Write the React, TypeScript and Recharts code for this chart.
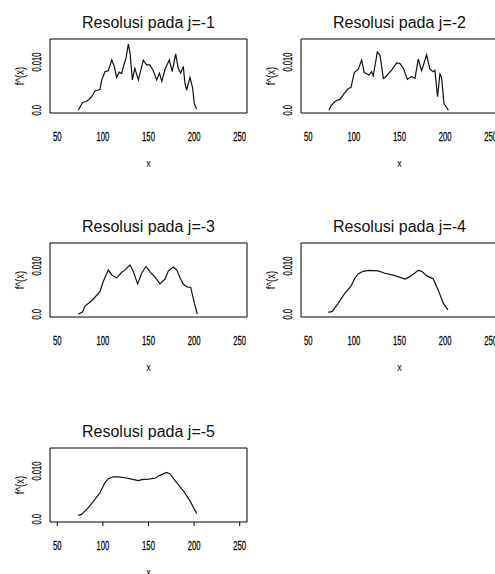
import { LineChart, Line, XAxis, YAxis, ReferenceArea, Label } from "recharts";

// axis setup shared by all five panels
const xTicks = [50, 100, 150, 200, 250];
const yTicks = [0, 0.01];
const xDomain = [42, 258];
const yDomain = [-0.00057, 0.01477];

const titles = [
  "Resolusi pada j=-1",
  "Resolusi pada j=-2",
  "Resolusi pada j=-3",
  "Resolusi pada j=-4",
  "Resolusi pada j=-5",
];

// j = -1
const x1 = [73, 77.8, 81.5, 84, 87.7, 91.3, 96.8, 98.7, 102.3, 105.9, 109.7, 112.5, 115, 117.8, 120.5, 123, 125.3, 127.9, 129.8, 132.3, 135, 138.9, 144.3, 147.9, 151.5, 155, 159, 162, 164.6, 168.3, 172.8, 176, 179.8, 182.7, 185.3, 188.1, 190, 191.8, 195.5, 198.4, 200.2, 202.8];
const y1 = [0.0, 0.0016, 0.0018, 0.0021, 0.0028, 0.004, 0.0043, 0.0063, 0.008, 0.0082, 0.0104, 0.0091, 0.0068, 0.0079, 0.0076, 0.0094, 0.0108, 0.0137, 0.0118, 0.0063, 0.0087, 0.0063, 0.0104, 0.0094, 0.0094, 0.0083, 0.0063, 0.0077, 0.006, 0.0086, 0.0104, 0.008, 0.0117, 0.0086, 0.0077, 0.0091, 0.0056, 0.0042, 0.0068, 0.0046, 0.0014, 0.0002];

// j = -2
const x2 = [72.7, 74.9, 79.3, 84.8, 89.5, 93.9, 96.8, 100.4, 104.8, 108.5, 111.4, 116.5, 119.4, 121.2, 125.7, 128.6, 132.3, 134.1, 141.4, 146.9, 150.5, 154.2, 158.6, 163.3, 167, 170.6, 174.3, 179.7, 183.3, 187, 188.8, 191.7, 194.3, 196.1, 198.8, 203.6];
const y2 = [0.0, 0.0009, 0.0018, 0.0023, 0.0035, 0.0045, 0.0047, 0.0078, 0.0085, 0.0104, 0.0078, 0.0073, 0.008, 0.0071, 0.0121, 0.0114, 0.0066, 0.0068, 0.0083, 0.0098, 0.0097, 0.0087, 0.0064, 0.007, 0.0066, 0.0106, 0.0082, 0.0115, 0.0085, 0.008, 0.0083, 0.0028, 0.0075, 0.0068, 0.0014, 0.0];

// j = -3
const x3 = [73, 77.8, 80.4, 87.7, 96.8, 100.4, 105.9, 109.6, 115.1, 120.6, 124.2, 129.7, 133.4, 138.1, 142.5, 147.3, 151.7, 157.2, 162.6, 168.1, 171.8, 177.2, 180.9, 184.5, 188.2, 193, 196.2, 200.2, 203.5];
const y3 = [0.0, 0.0005, 0.0017, 0.0028, 0.0047, 0.0068, 0.0092, 0.0082, 0.0075, 0.0087, 0.0092, 0.0102, 0.0088, 0.0063, 0.0085, 0.0099, 0.0088, 0.0077, 0.0063, 0.0073, 0.009, 0.0098, 0.0092, 0.0076, 0.0062, 0.0056, 0.0056, 0.0024, 0.0];

// j = -4
const x4 = [72, 76.3, 82.9, 90.2, 96.8, 101.1, 104.8, 110.3, 115.8, 126.7, 134, 145, 156, 161.4, 170.6, 174.3, 179.7, 187, 192.5, 198, 203.1];
const y4 = [0.0004, 0.0006, 0.0023, 0.0044, 0.0058, 0.0075, 0.0084, 0.0089, 0.0091, 0.009, 0.0085, 0.008, 0.0073, 0.0078, 0.0091, 0.0089, 0.008, 0.0073, 0.005, 0.0023, 0.0009];

// j = -5
const x5 = [73, 76.6, 84, 91.3, 96.8, 102.3, 105.9, 111.4, 116.9, 124.2, 131.5, 138.9, 142.5, 149.9, 157.2, 162.6, 169.9, 173.6, 180.9, 188.2, 195.5, 202.8];
const y5 = [0.0008, 0.001, 0.0024, 0.0041, 0.0055, 0.0076, 0.0084, 0.0088, 0.0088, 0.0086, 0.0083, 0.008, 0.0082, 0.0083, 0.0085, 0.0091, 0.0097, 0.0094, 0.0076, 0.0059, 0.0038, 0.0012];

const seriesX = [x1, x2, x3, x4, x5];
const seriesY = [y1, y2, y3, y4, y5];

const font = "'Liberation Sans', Arial, Helvetica, sans-serif";
const PANEL_W = 251;
const PANEL_H = 205;

function XTick({ x, y, payload }: any) {
  return (
    <text
      transform={`translate(${x},${y + 21.5}) scale(0.64,1)`}
      textAnchor="middle"
      fill="#000"
      stroke="#000"
      strokeWidth={0.25}
      fontFamily={font}
      fontSize={12}
    >
      {payload.value}
    </text>
  );
}

function YTick({ x, y, payload }: any) {
  const label = payload.value === 0 ? "0.0" : payload.value.toFixed(3);
  return (
    <text
      transform={`translate(${x - 3.5},${y}) rotate(-90) scale(0.64,1)`}
      textAnchor="middle"
      fill="#000"
      stroke="#000"
      strokeWidth={0.25}
      fontFamily={font}
      fontSize={12}
    >
      {label}
    </text>
  );
}

function Panel({ idx, left, top }: { idx: number; left: number; top: number }) {
  const data = seriesX[idx].map((x, i) => ({ x, y: seriesY[idx][i] }));
  const showTicks = idx === 4;
  return (
    <div style={{ position: "absolute", left, top, width: PANEL_W, height: PANEL_H }}>
      <div
        style={{
          position: "absolute",
          left: 50,
          width: 197,
          top: 14.7,
          fontSize: 16,
          lineHeight: "16px",
          textAlign: "center",
          fontFamily: font,
          color: "#111",
          whiteSpace: "nowrap",
        }}
      >
        {titles[idx]}
      </div>
      <LineChart
        width={PANEL_W}
        height={PANEL_H}
        data={data}
        margin={{ top: 39, right: 4, left: 20, bottom: 62 }}
      >
        <XAxis
          dataKey="x"
          type="number"
          domain={xDomain}
          ticks={xTicks}
          allowDataOverflow
          height={30}
          axisLine={false}
          tickLine={showTicks ? { stroke: "#000" } : false}
          tickSize={4}
          tick={<XTick />}
          interval={0}
        >
          <Label
            content={({ viewBox }: any) => (
              <text
                transform={`translate(${viewBox.x + viewBox.width / 2},${viewBox.y + 54}) scale(0.8,1)`}
                textAnchor="middle"
                fontFamily={font}
                fontSize={11}
                fill="#000"
              >
                x
              </text>
            )}
          />
        </XAxis>
        <YAxis
          dataKey="y"
          type="number"
          domain={yDomain}
          ticks={yTicks}
          allowDataOverflow
          width={30}
          axisLine={false}
          tickLine={false}
          tickSize={4}
          tick={<YTick />}
          interval={0}
        >
          <Label
            content={({ viewBox }: any) => (
              <text
                transform={`translate(${viewBox.x + 4},${viewBox.y + viewBox.height / 2}) rotate(-90) scale(0.8,1)`}
                textAnchor="middle"
                fontFamily={font}
                fontSize={12}
                fill="#000"
              >
                f^(x)
              </text>
            )}
          />
        </YAxis>
        <ReferenceArea
          x1={xDomain[0]}
          x2={xDomain[1]}
          y1={yDomain[0]}
          y2={yDomain[1]}
          ifOverflow="visible"
          fill="none"
          stroke="#000"
          strokeWidth={1}
        />
        <Line
          type="linear"
          dataKey="y"
          stroke="#111"
          strokeWidth={1.2}
          dot={false}
          isAnimationActive={false}
        />
      </LineChart>
    </div>
  );
}

export default function App() {
  return (
    <div
      style={{
        position: "absolute",
        left: 0,
        top: 0,
        width: 495,
        height: 574,
        overflow: "hidden",
        background: "#fff",
      }}
    >
      <Panel idx={0} left={0} top={0} />
      <Panel idx={1} left={251} top={0} />
      <Panel idx={2} left={0} top={204.3} />
      <Panel idx={3} left={251} top={204.3} />
      <Panel idx={4} left={0} top={409.3} />
    </div>
  );
}
